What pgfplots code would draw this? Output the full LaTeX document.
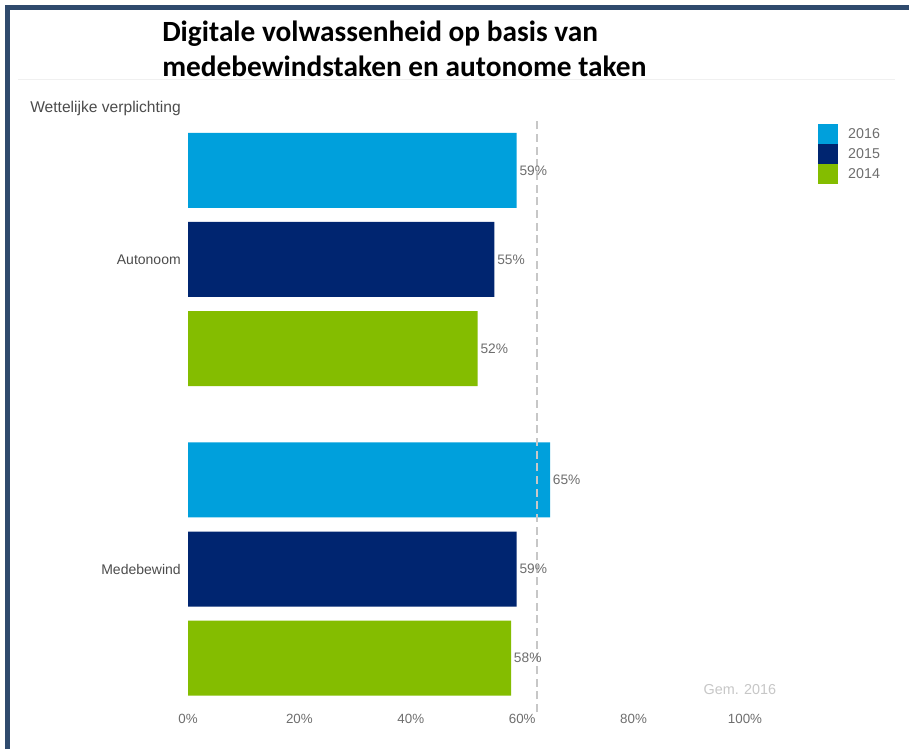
\documentclass[border=0pt]{standalone}
\usepackage{pgfplots}
\pgfplotsset{compat=1.18}
\usepackage{fontspec}
\setmainfont{Liberation Sans}
\newfontfamily\titlefont{Carlito}

\definecolor{c2016}{HTML}{00A0DC}
\definecolor{c2015}{HTML}{002570}
\definecolor{c2014}{HTML}{84BD00}
\definecolor{frame}{HTML}{2F4A6D}
\definecolor{lbl}{HTML}{6E6E6E}

\begin{document}
\begin{tikzpicture}[x=0.75pt,y=0.75pt]
% canvas: 909 x 749 px, 1px = 0.75pt
\path[use as bounding box] (0,0) rectangle (909,749);
\fill[white] (0,0) rectangle (909,749);
% frame
\draw[frame, line width=3.75pt] (7.5,0) -- (7.5,741.5) -- (909,741.5);
% thin line under title
\draw[gray!12, line width=0.75pt] (18,669) -- (895,669);
% title
\node[anchor=base west, inner sep=0pt, font=\titlefont\bfseries\fontsize{22}{26}\selectfont]
  at (162,707) {Digitale volwassenheid op basis van};
\node[anchor=base west, inner sep=0pt, font=\titlefont\bfseries\fontsize{22}{26}\selectfont]
  at (162,672) {medebewindstaken en autonome taken};
\node[anchor=west, inner sep=0pt, text=black!70, font=\fontsize{11.7}{14}\selectfont]
  at (30,641) {Wettelijke verplichting};

\begin{axis}[
    at={(141pt,27.75pt)}, anchor=south west,
    scale only axis, width=459.5pt, height=444pt,
    xbar, bar width=0.2423,
    xmin=0, xmax=110, ymin=-0.462, ymax=1.4507,
    axis line style={draw=none}, tick style={draw=none},
    xtick={0,20,40,60,80,100},
    xticklabels={0\%,20\%,40\%,60\%,80\%,100\%},
    ytick={0,1}, yticklabels={Medebewind,Autonoom},
    xticklabel style={text=lbl, font=\fontsize{10}{12}\selectfont, inner sep=1.5pt},
    yticklabel style={text=black!70, font=\fontsize{10.5}{12}\selectfont, inner sep=0pt, xshift=-1pt},
    /pgf/number format/assume math mode=true,
    clip=false,
    legend style={draw=none, fill=none, at={(1.0282,0.993)}, anchor=north west,
      inner sep=0pt, row sep=0pt, text=lbl, font=\fontsize{10.7}{12}\selectfont,
      nodes={inner sep=0pt}, /tikz/column sep=7.5pt},
    legend image code/.code={\fill[#1] (0pt,-7.5pt) rectangle (15pt,7.5pt);},
    legend cell align=left,
    every node near coord/.append style={text=lbl, font=\fontsize{10.3}{12}\selectfont, anchor=west, inner sep=2pt},
]
\addplot[draw=none, fill=c2016, bar shift=0.2876, nodes near coords={\pgfmathprintnumber\pgfplotspointmeta\%}]
  coordinates {(65,0) (59,1)};
\addlegendentry{2016}
\addplot[draw=none, fill=c2015, bar shift=0, nodes near coords={\pgfmathprintnumber\pgfplotspointmeta\%}]
  coordinates {(59,0) (55,1)};
\addlegendentry{2015}
\addplot[draw=none, fill=c2014, bar shift=-0.2876, nodes near coords={\pgfmathprintnumber\pgfplotspointmeta\%}]
  coordinates {(58,0) (52,1)};
\addlegendentry{2014}
% average 2016
\addplot[forget plot, sharp plot, black!22, line width=1.5pt, dash pattern=on 6pt off 3.5pt]
  coordinates {(62.7,-0.462) (62.7,1.4507)}
  node[pos=0, anchor=south west, inner sep=0pt, xshift=124pt, yshift=12pt, text=black!22, font=\fontsize{10.8}{12}\selectfont] {Gem. 2016};
\end{axis}
\end{tikzpicture}
\end{document}
